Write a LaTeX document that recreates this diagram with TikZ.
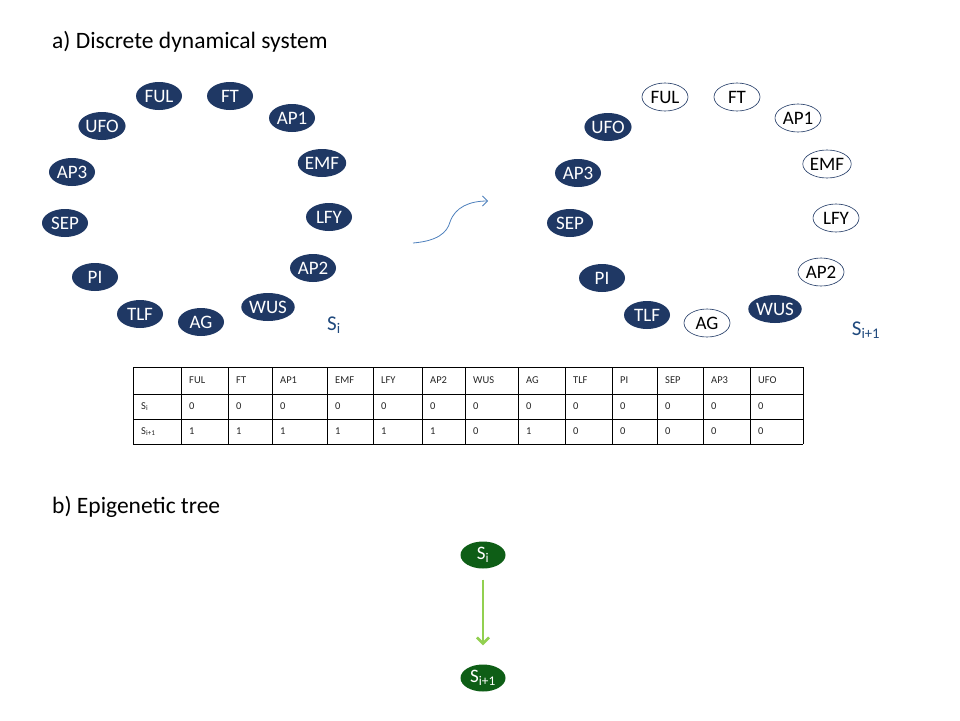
\documentclass[tikz,border=0pt]{standalone}
\usepackage{fontspec}
\setmainfont{Carlito}
\usetikzlibrary{arrows.meta,shapes.geometric}
\definecolor{navy}{HTML}{1F3864}
\definecolor{labblue}{HTML}{1F497D}
\definecolor{arrblue}{HTML}{4F81BD}
\definecolor{dkgreen}{HTML}{0E5E16}
\definecolor{ltgreen}{HTML}{92D050}
\definecolor{celltext}{HTML}{262626}
\begin{document}
\begin{tikzpicture}[x=1pt,y=-1pt,
  gene/.style={ellipse,minimum width=46pt,minimum height=28pt,inner sep=0pt,font=\fontsize{19}{19}\selectfont},
  geneon/.style={gene,fill=navy,text=white},
  geneoff/.style={gene,draw=navy,line width=0.6pt,fill=white,text=black},
  title/.style={anchor=west,inner sep=0pt,font=\fontsize{23.5}{24}\selectfont},
  statelab/.style={font=\fontsize{21}{21}\selectfont,text=labblue},
  cell/.style={anchor=west,inner sep=0pt,text=celltext,font=\fontsize{10.5}{10.5}\selectfont},
  tline/.style={line width=0.6pt,draw=black},
  treenode/.style={ellipse,minimum width=45pt,minimum height=27pt,inner sep=0pt,fill=dkgreen,text=white,font=\fontsize{19}{19}\selectfont}
]
\useasboundingbox[fill=white] (0,0) rectangle (960,720);

% titles
\node[title] (ta) at (52,42) {a) Discrete dynamical system};
\node[title] (tb) at (52,507) {b) Epigenetic tree};

% left ring: state S_i
\node[geneon] (lFUL) at (159,96) {FUL};
\node[geneon] (lFT)  at (230,96) {FT};
\node[geneon] (lAP1) at (292,118) {AP1};
\node[geneon] (lEMF) at (322,163) {EMF};
\node[geneon] (lLFY) at (329,217) {LFY};
\node[geneon] (lAP2) at (313,268) {AP2};
\node[geneon] (lWUS) at (268,307) {WUS};
\node[geneon] (lAG)  at (201,322) {AG};
\node[geneon] (lTLF) at (140,314) {TLF};
\node[geneon] (lPI)  at (95,277) {PI};
\node[geneon] (lSEP) at (65,223) {SEP};
\node[geneon] (lAP3) at (72,172) {AP3};
\node[geneon] (lUFO) at (102,126) {UFO};
\node[statelab] (lS) at (334,325) {S\textsubscript{i}};

% right ring: state S_{i+1}
\node[geneoff] (rFUL) at (665,97) {FUL};
\node[geneoff] (rFT)  at (737,97) {FT};
\node[geneoff] (rAP1) at (798,118) {AP1};
\node[geneoff] (rEMF) at (827,164) {EMF};
\node[geneoff] (rLFY) at (836,218) {LFY};
\node[geneoff] (rAP2) at (821,272) {AP2};
\node[geneon]  (rWUS) at (775,309) {WUS};
\node[geneoff] (rAG)  at (707,323) {AG};
\node[geneon]  (rTLF) at (647,315) {TLF};
\node[geneon]  (rPI)  at (602,278) {PI};
\node[geneon]  (rSEP) at (570,223) {SEP};
\node[geneon]  (rAP3) at (578,173) {AP3};
\node[geneon]  (rUFO) at (608,127) {UFO};
\node[statelab] (rS) at (866,330) {S\textsubscript{i+1}};

% transition arrow
\coordinate (arrA) at (413,243);
\coordinate (arrB) at (488,201);
\draw[arrblue,line width=0.8pt,-{Straight Barb[length=5pt,width=10pt]}]
  (arrA) .. controls (437,241) and (447,233) .. (450,222)
         .. controls (455,207) and (470,201) .. (arrB);

% table
\foreach \yy in {367,394,419,444} \draw[tline] (133,\yy) -- (803,\yy);
\foreach \xx in {133,181,228,272,327,373,422,465,518,565,612,657,703,750,803}
  \draw[tline] (\xx,367) -- (\xx,444);
\node[cell] (rowSi) at (141,406.5) {S\textsubscript{i}};
\node[cell] (rowSj) at (141,431.5) {S\textsubscript{i+1}};
\foreach \xx/\hh/\aa/\bb [count=\k] in {181/FUL/0/1,228/FT/0/1,272/AP1/0/1,327/EMF/0/1,373/LFY/0/1,422/AP2/0/1,465/WUS/0/0,518/AG/0/1,565/TLF/0/0,612/PI/0/0,657/SEP/0/0,703/AP3/0/0,750/UFO/0/0}{
  \node[cell] (h\k) at (\xx+8,380.5) {\hh};
  \node[cell] (a\k) at (\xx+8,406.5) {\aa};
  \node[cell] (b\k) at (\xx+8,431.5) {\bb};
}

% epigenetic tree
\node[treenode] (si) at (483,555) {S\textsubscript{i}};
\node[treenode] (sj) at (483,678) {S\textsubscript{i+1}};
\draw[ltgreen,line width=2.6pt,-{Straight Barb[length=6pt,width=12pt]},shorten <=11pt,shorten >=19pt] (si) -- (sj);
\end{tikzpicture}
\end{document}
